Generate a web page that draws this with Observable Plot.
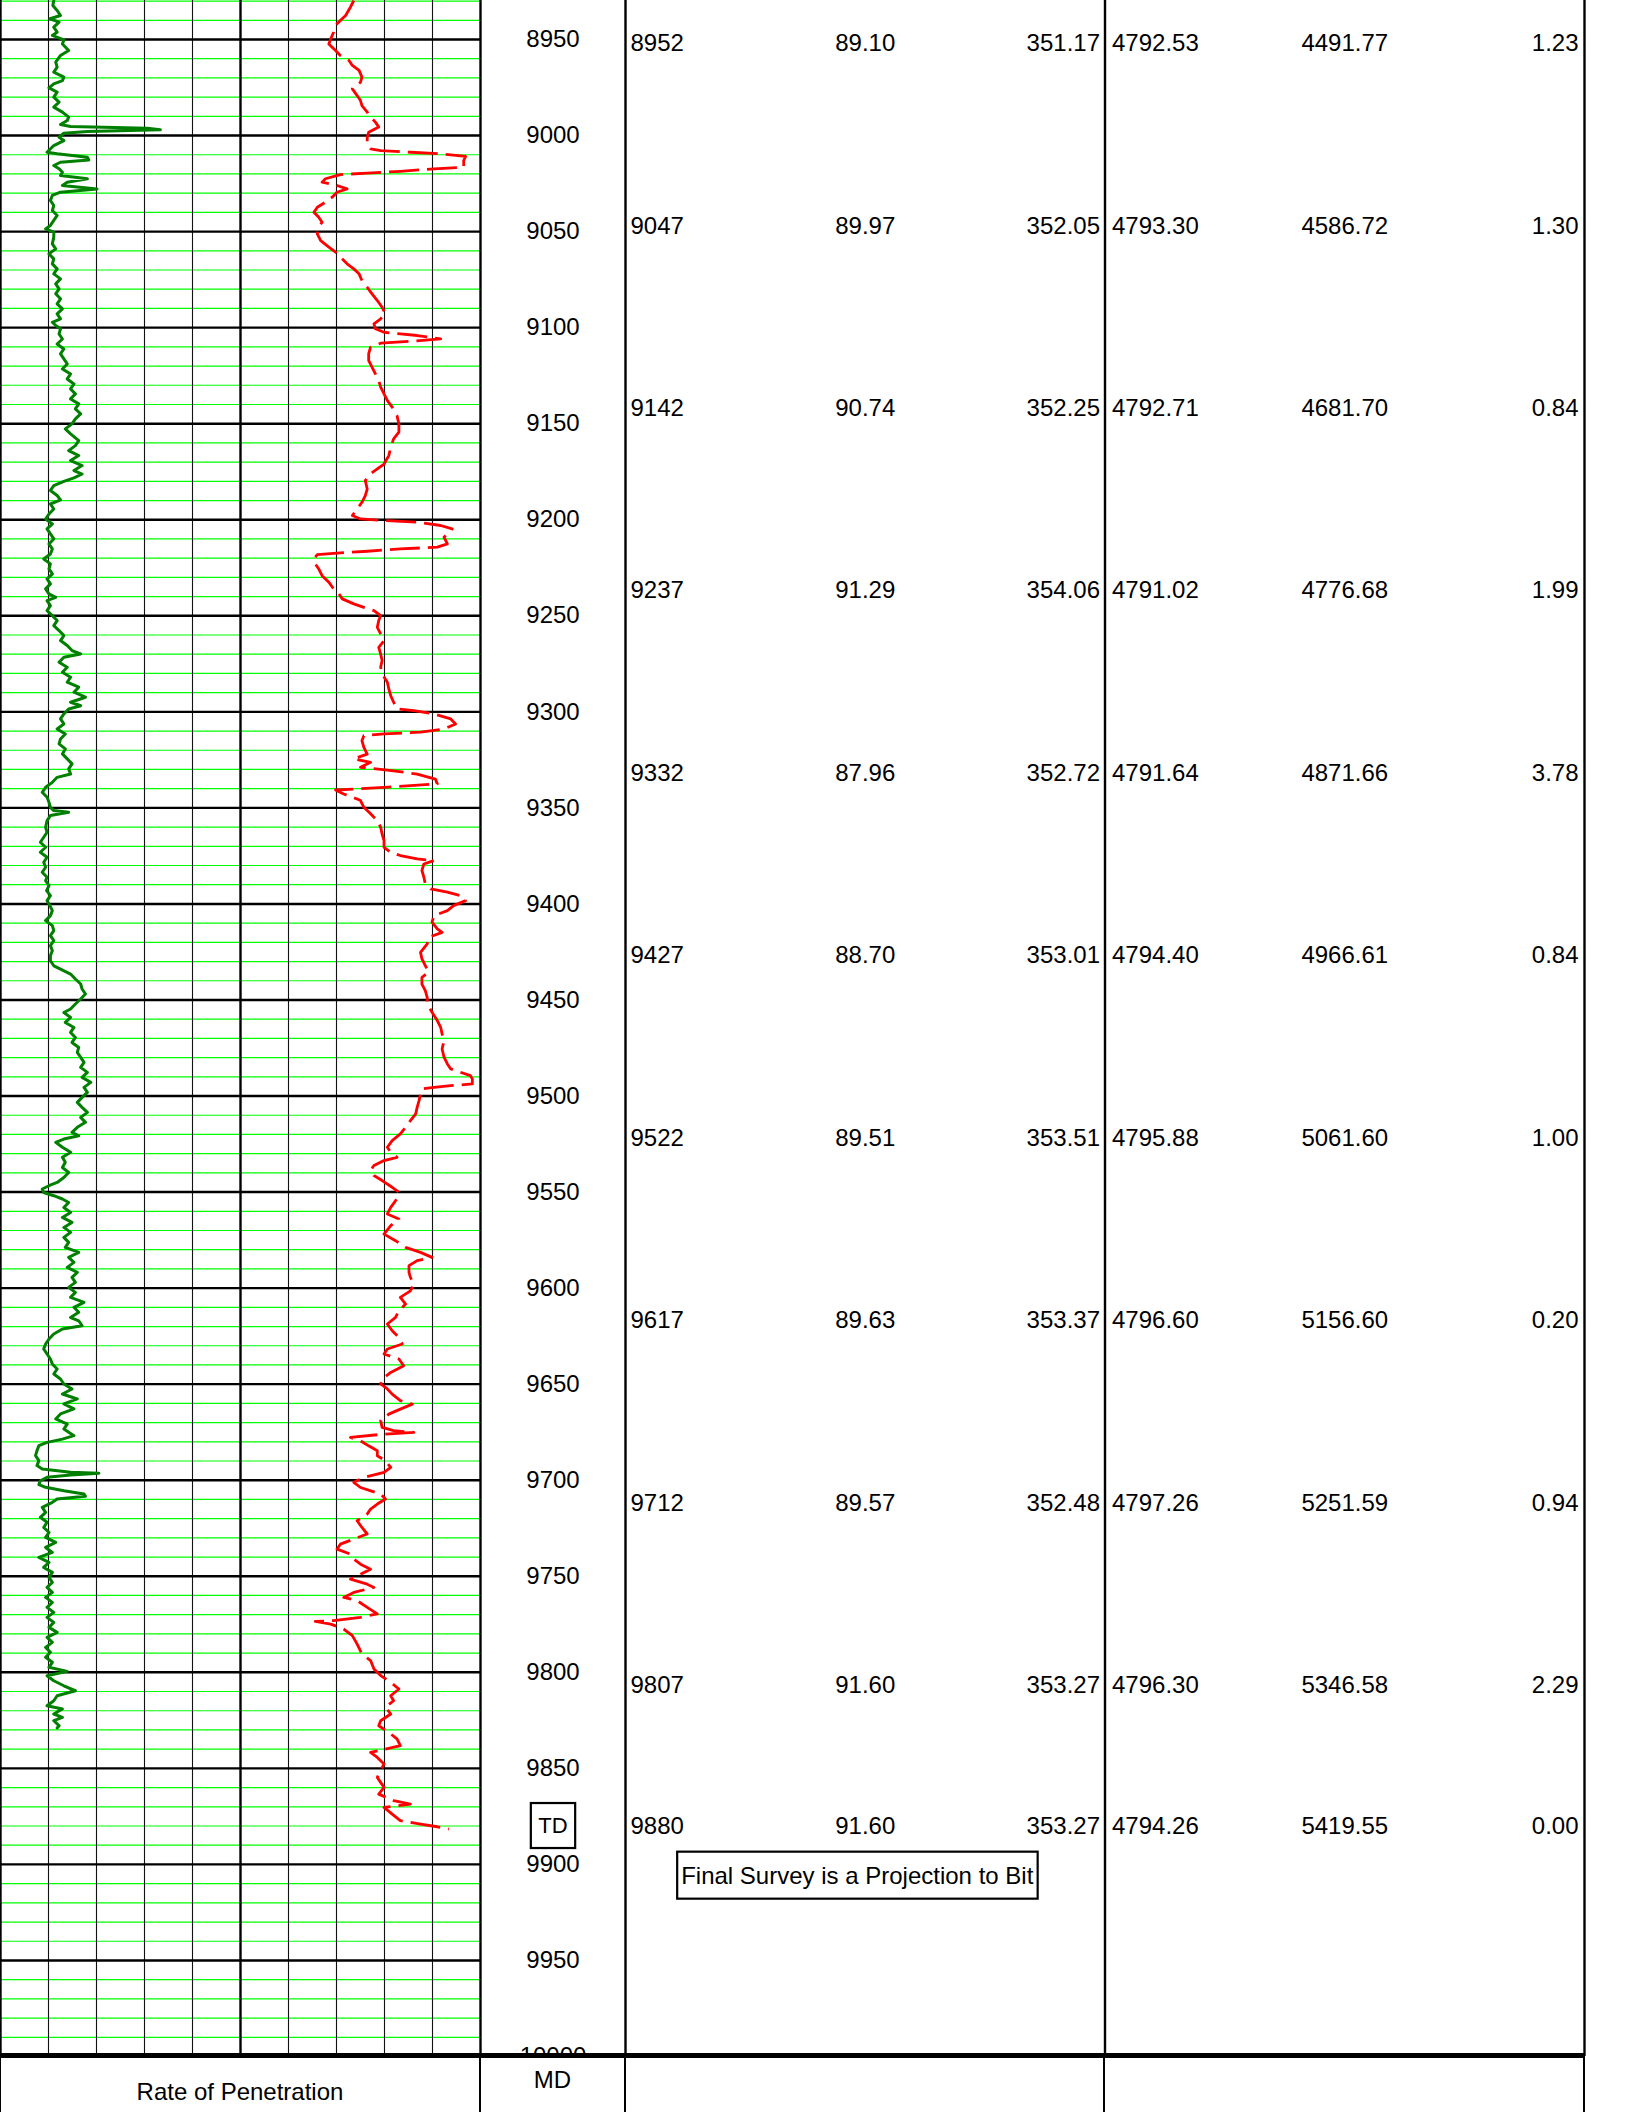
<!DOCTYPE html>
<html>
<head>
<meta charset="utf-8">
<title>Rate of Penetration – MD log with survey table</title>
<script src="https://cdn.jsdelivr.net/npm/d3@7"></script>
<script src="https://cdn.jsdelivr.net/npm/@observablehq/plot@0.6"></script>
<style>
  html, body { margin: 0; padding: 0; background: #fff; }
  #log {
    position: relative; width: 1632px; height: 2112px; overflow: hidden; background: #fff;
    font-family: "Liberation Sans", Arial, Helvetica, sans-serif; color: #000;
  }
  .panel { position: absolute; top: 0; }
  .footer {
    position: absolute; left: 0; top: 2053px; width: 1585px; height: 59px;
    border-top: 5px solid #000; background: #fff; z-index: 2;
  }
  .footer .sep { position: absolute; top: -5px; bottom: 0; width: 2px; background: #000; }
  .footer .label { position: absolute; font-size: 24px; line-height: 24px; text-align: center; white-space: nowrap; }
</style>
</head>
<body>
<div id="log"></div>
<script>
// ---- Depth window (feet, measured depth) ----
const depthTop = 8929.7;
const depthBottom = 10000;
const depthLabels = [8950, 9000, 9050, 9100, 9150, 9200, 9250, 9300, 9350, 9400, 9450,
                     9500, 9550, 9600, 9650, 9700, 9750, 9800, 9850, 9900, 9950, 10000];

// ---- Track 1 curves: [depth ft, track value on a 0–100 scale] ----
const gammaRay = [
  [8929.7,11.1],[8932.3,10.9],[8934.9,11.8],[8937.5,12.5],[8939.2,10.3],[8941.0,12.2],[8943.6,11.1],[8946.2,11.8],
  [8947.9,10.8],[8950.2,13.2],[8952.3,12.9],[8955.7,14.2],[8958.3,12.5],[8961.8,11.5],[8964.4,11.8],[8967.0,11.1],
  [8969.6,13.2],[8971.4,12.9],[8973.1,11.1],[8975.2,10.1],[8977.4,11.8],[8980.0,11.1],[8982.6,12.2],[8985.2,11.1],
  [8987.8,12.9],[8990.4,14.2],[8992.2,13.9],[8994.3,12.5],[8995.3,14.6],[8996.2,30.6],[8997.0,33.3],[8997.9,18.1],
  [8998.8,13.2],[9000.9,12.2],[9002.6,13.2],[9005.2,11.1],[9008.7,9.7],[9009.5,11.8],[9011.3,18.1],[9012.7,18.4],
  [9013.9,12.5],[9015.6,11.1],[9017.3,12.2],[9019.1,12.9],[9020.8,12.5],[9022.5,18.1],[9024.3,13.9],[9026.0,12.9],
  [9027.8,20.1],[9029.5,12.5],[9031.2,10.8],[9033.8,10.4],[9036.4,11.1],[9039.0,10.8],[9041.6,11.8],[9044.2,11.1],
  [9046.8,10.4],[9048.6,9.4],[9050.3,11.1],[9052.9,11.1],[9056.4,10.8],[9059.0,11.5],[9061.6,10.1],[9064.2,11.1],
  [9066.8,10.8],[9069.4,11.8],[9072.0,11.1],[9074.6,12.5],[9077.2,11.5],[9079.8,12.2],[9082.4,11.5],[9085.0,12.5],
  [9087.6,11.8],[9090.2,12.9],[9092.8,11.8],[9095.4,12.5],[9097.2,10.8],[9098.9,11.5],[9100.6,12.5],[9103.3,12.2],
  [9105.9,12.9],[9108.5,11.8],[9111.1,13.2],[9113.7,12.5],[9116.3,13.2],[9118.9,13.9],[9121.5,12.9],[9124.1,14.6],
  [9126.7,13.9],[9129.3,15.3],[9131.9,14.6],[9134.5,15.6],[9137.1,14.6],[9139.7,16.3],[9142.3,15.6],[9144.9,16.7],
  [9147.5,15.6],[9150.1,14.9],[9152.7,13.5],[9155.3,14.6],
  [9158.8,16.3],[9161.4,15.6],[9164.0,14.2],[9166.6,16.3],[9169.2,14.6],[9171.8,17.0],[9174.4,15.3],[9176.2,17.0],
  [9178.2,15.3],[9180.0,13.2],[9182.2,11.1],[9184.8,10.4],[9187.4,11.8],[9189.7,12.5],[9191.8,10.4],[9194.4,11.1],
  [9197.0,10.1],[9199.6,9.4],[9202.2,10.8],[9204.8,9.7],[9207.4,10.4],[9210.0,11.1],[9212.6,10.1],[9215.2,10.8],
  [9217.8,10.4],[9220.4,9.0],[9223.0,10.4],[9225.6,10.1],[9228.2,10.8],[9230.8,9.7],[9233.4,10.4],[9236.0,9.4],
  [9238.6,10.1],[9240.4,11.5],[9242.1,9.7],[9244.7,10.4],[9247.3,9.7],[9249.9,10.8],[9252.5,11.8],[9255.1,11.1],
  [9257.7,12.2],[9260.3,13.2],[9262.9,12.5],[9265.5,13.9],[9268.1,14.9],[9269.9,16.7],[9271.6,13.2],[9274.2,12.2],
  [9276.8,13.9],[9279.4,12.9],[9282.0,14.6],[9284.6,13.9],[9287.2,16.3],[9289.8,15.3],[9292.4,17.7],[9295.0,14.6],
  [9296.8,16.7],[9298.5,14.2],[9301.1,13.2],[9303.7,12.5],[9306.3,13.2],[9308.9,11.8],[9311.5,13.5],[9314.1,12.5],
  [9316.7,12.2],[9319.3,13.5],[9321.9,12.9],[9324.5,13.9],[9327.1,14.9],[9329.7,14.2],[9332.4,14.6],[9334.1,11.8],
  [9336.7,10.8],[9339.3,9.4],[9341.9,8.7],[9344.5,9.7],[9347.1,10.1],[9349.7,10.4],[9351.4,11.1],[9352.3,14.2],
  [9354.0,10.4],[9356.6,9.7],[9360.1,9.4],[9362.7,9.7],[9365.3,9.0],[9367.9,8.3],[9370.5,9.4],[9373.1,8.3],
  [9375.7,9.7],[9378.3,9.0],[9380.9,9.4],[9383.5,8.7],[9386.1,9.7],
  [9387.9,9.4],[9390.5,10.1],[9393.1,9.6],[9395.7,10.4],[9398.3,9.7],[9400.9,10.3],[9403.5,10.8],[9406.1,10.4],
  [9408.7,9.4],[9411.3,10.8],[9413.9,11.1],[9416.5,10.4],[9419.1,11.1],[9421.7,10.4],[9424.3,10.8],[9426.9,10.4],
  [9429.6,10.4],[9432.2,11.1],[9433.9,12.5],[9436.5,14.6],[9439.1,15.6],[9441.7,16.7],[9444.3,17.0],[9446.9,17.7],
  [9449.5,16.7],[9452.1,15.6],[9454.7,14.6],[9456.5,13.2],[9459.1,14.6],[9461.7,13.5],[9464.3,15.3],[9466.9,14.6],
  [9469.5,15.6],[9472.1,14.9],[9474.7,16.3],[9477.3,16.0],[9479.9,16.7],[9482.5,17.4],[9485.1,16.7],[9487.7,18.1],
  [9490.3,17.0],[9492.9,18.8],[9495.5,17.4],[9498.1,18.1],[9500.7,17.0],[9503.3,16.0],[9505.9,17.0],[9508.5,18.1],
  [9511.1,16.7],[9513.7,17.7],[9516.3,16.0],[9518.9,14.9],[9520.7,16.3],[9522.4,13.2],[9524.1,11.5],[9526.7,12.9],
  [9529.3,14.6],[9531.9,12.9],[9534.5,13.5],[9537.2,12.9],[9539.8,14.2],[9542.4,13.2],[9545.0,11.8],[9546.7,10.1],
  [9548.4,8.7],[9550.2,9.0],[9551.9,11.1],[9553.6,12.9],[9555.4,14.2],[9558.0,13.2],[9560.6,14.6],[9563.2,12.9],
  [9565.8,14.9],[9568.4,13.2],[9571.0,14.6],[9573.6,13.2],[9576.2,14.2],[9578.8,13.5],[9581.4,16.3],[9584.0,14.2],
  [9586.6,15.3],[9589.2,13.9],[9591.8,16.0],[9594.4,14.9],[9597.0,15.6],[9599.6,14.2],[9602.2,15.6],[9604.8,14.6],
  [9607.4,17.4],[9610.0,15.3],[9612.6,16.3],[9615.3,14.6],
  [9617.0,16.3],[9619.6,17.0],[9621.3,12.9],[9623.9,11.1],[9626.5,10.1],[9629.1,9.4],[9631.7,9.0],[9634.3,9.7],
  [9636.9,10.4],[9639.5,10.8],[9642.1,11.8],[9644.7,11.1],[9647.3,12.5],[9649.9,13.2],[9652.5,14.9],[9655.1,12.9],
  [9657.7,16.0],[9660.3,13.2],[9662.9,15.3],[9665.5,12.5],[9668.1,11.5],[9670.8,13.9],[9673.4,13.2],[9676.8,15.3],
  [9678.6,12.9],[9680.3,9.7],[9682.0,8.0],[9684.6,7.6],[9687.2,7.3],[9689.8,8.0],[9692.4,7.6],[9694.2,8.7],
  [9695.9,14.6],[9696.4,20.5],[9697.3,14.6],[9698.5,9.7],[9700.3,8.3],[9702.3,8.0],[9703.7,9.4],[9705.5,13.2],
  [9707.2,17.4],[9708.4,17.7],[9709.8,11.8],[9711.5,10.8],[9714.1,8.7],[9716.7,9.4],[9719.3,8.3],[9721.9,9.7],
  [9724.6,9.0],[9727.2,10.1],[9729.8,9.4],[9732.4,11.5],[9735.0,9.4],[9737.6,10.8],[9740.2,8.0],[9742.8,10.1],
  [9745.4,9.0],[9748.0,10.8],[9750.6,10.1],[9753.2,10.8],[9755.8,9.7],[9758.4,10.8],[9761.0,9.4],[9763.6,10.8],
  [9766.2,9.7],[9768.8,11.1],[9771.4,9.7],[9774.0,11.1],[9776.6,10.1],[9779.2,11.8],[9781.8,9.7],[9784.4,10.8],
  [9787.0,9.4],[9789.6,10.4],[9792.2,9.4],[9794.8,10.8],[9797.4,10.1],[9799.5,13.9],[9801.8,9.7],[9804.4,11.1],
  [9807.0,13.2],[9809.6,15.6],[9812.2,11.8],[9814.8,11.1],[9817.4,9.7],[9819.1,12.9],[9821.7,11.1],[9823.5,12.9],
  [9825.2,11.1],[9827.8,12.2],[9829.0,11.8]
];

const rateOfPenetration = [
  [8929.7,73.6],[8933.2,72.9],[8937.5,71.9],[8940.1,70.8],[8942.7,69.8],[8946.2,69.4],[8949.7,68.8],[8952.3,68.4],
  [8955.7,69.8],[8958.3,70.8],[8960.9,72.6],[8963.5,73.3],[8966.1,74.7],[8969.6,75.3],[8972.2,75.0],[8975.7,73.3],
  [8979.2,74.3],[8981.8,75.0],[8984.4,75.3],[8987.8,76.4],[8990.4,77.1],[8993.0,78.1],[8995.6,78.8],[8998.3,76.7],
  [9000.9,76.4],[9004.3,76.4],[9006.9,77.1],[9007.8,79.2],[9008.7,85.4],[9009.5,91.7],[9010.9,96.9],[9013.0,96.5],
  [9016.5,96.5],[9017.3,90.3],[9018.6,83.3],[9019.6,76.4],[9020.3,70.8],[9022.5,67.7],[9024.3,67.0],[9026.0,70.1],
  [9027.8,72.2],[9029.5,70.1],[9032.1,69.1],[9034.7,67.7],[9037.3,66.0],[9039.9,65.3],[9042.5,66.3],[9045.1,67.0],
  [9047.7,66.3],[9051.2,66.0],[9054.7,66.7],[9058.1,68.4],[9060.7,69.8],[9063.3,70.8],[9066.8,72.2],[9069.4,73.6],
  [9072.0,74.7],[9075.5,75.3],[9079.0,76.4],[9082.4,77.4],[9085.9,78.5],[9089.4,79.5],[9092.8,80.2],[9095.4,79.2],
  [9098.0,77.8],[9100.6,78.1],[9102.4,79.9],[9103.3,83.3],[9104.1,86.8],[9105.9,91.7],[9107.1,85.4],[9108.1,79.2],
  [9110.2,77.1],[9113.7,76.7],[9117.1,76.7],[9120.6,77.4],[9124.1,78.1],[9127.5,78.8],[9131.0,79.2],[9134.5,79.9],
  [9138.0,80.6],[9141.4,81.6],[9145.8,82.6],[9150.1,83.0],[9154.4,83.0],[9157.9,81.9],[9162.3,81.3],[9166.6,80.9],
  [9171.0,79.9],[9173.5,78.5],[9176.1,77.1],[9179.6,76.0],[9184.0,76.4],[9187.4,76.0],[9190.9,75.3],[9194.4,74.3],
  [9197.8,73.3],[9199.6,75.0],[9200.4,79.9],[9201.3,86.8],[9203.0,91.7],[9204.8,94.1],[9206.5,93.4],[9209.1,92.4],
  [9212.6,93.1],[9214.3,91.0],[9215.2,83.3],[9216.4,76.4],[9217.5,69.4],[9218.2,66.0],[9220.4,65.3],[9223.0,65.6],
  [9225.6,66.3],[9229.1,67.0],[9232.5,68.4],[9236.0,69.4],[9238.6,70.5],[9241.2,71.2],[9243.8,73.6],[9245.6,75.7],
  [9247.3,77.8],[9249.9,79.2],[9252.5,78.8],[9256.0,78.5],[9259.4,79.2],[9262.9,79.9],[9266.4,78.8],[9269.9,79.2],
  [9273.3,79.5],[9276.8,79.2],[9280.3,79.5],[9284.6,80.6],[9288.1,80.9],[9291.6,81.3],[9295.0,81.9],[9298.5,82.6],
  [9299.4,86.1],[9301.1,90.3],[9303.7,93.8],[9306.3,94.8],[9308.9,92.4],[9310.6,87.5],[9311.5,79.9],[9312.4,75.7],
  [9315.0,75.3],[9318.5,75.7],[9322.0,76.4],[9324.5,73.6],[9326.3,77.1],[9328.9,75.0],[9330.3,80.6],[9332.4,86.8],
  [9335.0,90.6],[9337.5,91.0],[9339.3,79.9],[9340.7,69.8],[9342.8,71.5],[9345.4,74.3],
  [9346.2,75.0],[9349.7,75.7],[9353.1,77.1],[9356.6,78.5],[9360.1,79.2],[9363.6,79.5],[9367.0,79.9],[9370.5,79.9],
  [9373.1,81.3],[9374.8,83.3],[9376.6,86.8],[9377.4,90.3],[9379.2,88.2],[9382.6,87.8],[9386.1,88.2],[9389.6,88.5],
  [9392.2,89.6],[9393.9,93.1],[9395.7,95.8],[9398.3,96.9],[9400.9,94.4],[9403.5,93.1],[9406.1,90.3],[9409.5,89.9],
  [9413.0,91.0],[9414.8,92.0],[9417.4,89.2],[9420.8,88.9],[9425.2,87.5],[9428.6,87.8],[9432.1,88.5],[9435.6,89.2],
  [9438.2,87.8],[9441.7,87.8],[9445.1,88.5],[9448.6,88.9],[9452.1,88.9],[9456.4,89.9],[9460.7,91.0],[9464.2,91.7],
  [9467.7,92.0],[9471.2,92.4],[9475.5,92.0],[9479.8,92.4],[9483.3,93.1],[9485.9,93.8],[9487.6,95.8],[9489.4,97.9],
  [9491.1,98.3],[9493.7,98.3],[9494.6,93.8],[9495.5,90.3],[9496.3,87.8],[9498.9,87.5],[9502.4,87.2],[9505.9,86.8],
  [9509.3,86.5],[9512.8,85.4],[9516.3,84.4],[9519.7,83.3],[9523.2,81.6],[9526.7,80.6],[9529.3,81.3],[9531.9,82.6],
  [9533.6,79.9],[9536.2,77.8],[9538.8,77.1],[9541.4,77.8],[9544.0,79.5],[9547.5,81.6],[9550.1,83.0],[9553.6,82.6],
  [9554.5,82.3],[9558.0,81.3],[9561.4,80.6],[9564.0,83.0],[9567.5,81.3],[9571.9,79.9],[9575.3,82.3],[9578.8,84.4],
  [9581.4,87.5],[9584.0,89.9],[9585.7,86.8],[9588.3,85.1],[9591.8,85.1],[9594.4,85.4],[9597.9,86.1],[9601.4,85.4],
  [9604.8,83.3],[9608.3,84.4],[9611.8,83.0],[9615.2,82.3],[9618.7,80.6],[9622.2,81.6],[9625.7,83.0],[9629.1,83.7],
  [9631.7,80.6],[9634.3,79.9],[9636.9,83.0],[9640.4,84.0],[9643.9,81.3],[9647.3,79.5],[9649.9,79.2],[9652.5,80.6],
  [9655.2,81.6],[9658.6,83.3],[9660.4,85.8],[9663.0,83.3],[9665.6,80.9],[9669.0,79.2],[9672.5,79.5],[9674.2,81.9],
  [9675.1,86.1],[9676.0,79.9],[9677.7,72.9],[9679.5,75.0],[9682.1,76.7],[9684.7,78.5],[9687.3,78.5],[9689.9,80.2],
  [9693.3,81.3],[9695.9,79.9],[9698.5,75.7],[9701.1,73.6],[9703.8,75.0],[9707.2,79.2],[9709.8,80.2],[9712.4,78.5],
  [9715.0,77.1],[9717.6,76.4],[9721.1,74.3],[9724.6,75.3],[9728.0,76.4],[9730.6,73.6],[9733.3,70.8],[9735.9,70.1],
  [9738.5,72.9],[9741.1,73.6],[9743.7,75.0],[9746.3,77.1],[9748.9,75.0],[9751.5,72.9],[9754.1,76.4],[9755.8,77.8],
  [9758.4,73.6],[9761.0,71.5],
  [9762.7,74.3],[9766.2,76.4],[9769.6,78.5],[9771.4,75.0],[9773.1,69.4],[9773.5,65.6],[9774.9,68.8],[9777.5,71.5],
  [9780.9,73.3],[9785.3,74.3],[9790.5,75.3],[9793.9,77.1],[9798.3,77.8],[9801.7,79.2],[9805.2,81.3],[9808.7,83.0],
  [9812.2,81.3],[9814.8,81.9],[9818.2,80.2],[9821.7,81.3],[9825.2,79.2],[9827.8,78.8],[9831.3,80.9],[9834.7,82.6],
  [9838.2,83.3],[9841.7,77.1],[9844.3,78.5],[9847.7,79.9],[9851.2,79.2],[9854.7,78.5],[9859.9,79.9],[9863.4,78.8],
  [9866.8,81.9],[9868.6,85.4],[9870.3,79.9],[9873.8,81.6],[9877.2,83.3],[9879.0,87.5],[9880.4,91.0],[9881.6,93.4]
];

// ---- Directional survey stations ----
const surveyMD   = [8952, 9047, 9142, 9237, 9332, 9427, 9522, 9617, 9712, 9807, 9880];
const surveyInc  = [89.10, 89.97, 90.74, 91.29, 87.96, 88.70, 89.51, 89.63, 89.57, 91.60, 91.60];
const surveyAzi  = [351.17, 352.05, 352.25, 354.06, 352.72, 353.01, 353.51, 353.37, 352.48, 353.27, 353.27];
const surveyTVD  = [4792.53, 4793.30, 4792.71, 4791.02, 4791.64, 4794.40, 4795.88, 4796.60, 4797.26, 4796.30, 4794.26];
const surveyVS   = [4491.77, 4586.72, 4681.70, 4776.68, 4871.66, 4966.61, 5061.60, 5156.60, 5251.59, 5346.58, 5419.55];
const surveyDLS  = [1.23, 1.30, 0.84, 1.99, 3.78, 0.84, 1.00, 0.20, 0.94, 2.29, 0.00];
const tdLabel = "TD";
const finalNote = "Final Survey is a Projection to Bit";
const trackTitle = "Rate of Penetration";
const depthTitle = "MD";

// ---- Shared layout ----
const FONT = '"Liberation Sans", Arial, Helvetica, sans-serif';
const PLOT_H = 2056;
const yDepth = {domain: [depthTop, depthBottom], range: [0, PLOT_H], axis: null};
const baseStyle = {background: "transparent", overflow: "visible", fontFamily: FONT, fontSize: "24px"};

const gammaRows = gammaRay.map(([depth, value]) => ({depth, value}));
const ropRows = rateOfPenetration.map(([depth, value]) => ({depth, value}));
const surveyRows = surveyMD.map((md, i) => ({
  md, inc: surveyInc[i], azi: surveyAzi[i], tvd: surveyTVD[i], vs: surveyVS[i], dls: surveyDLS[i]
}));
const f2 = d3.format(".2f");

// Grid: 10 ft minor lines, 50 ft major lines, ten horizontal divisions
const minorDepths = d3.range(8930, depthBottom, 10).filter(d => d % 50 !== 0);
const majorDepths = depthLabels.filter(d => d < depthBottom);
const thinDivisions = [10, 20, 30, 40, 60, 70, 80, 90];
const heavyDivisions = [0, 50, 100];

const root = document.getElementById("log");
function place(node, left, width) {
  const div = document.createElement("div");
  div.className = "panel";
  div.style.left = left + "px";
  div.style.width = width + "px";
  div.appendChild(node);
  root.appendChild(div);
  return node;
}

// ---- Track 1: curves over the grid ----
const track = Plot.plot({
  width: 482, height: PLOT_H,
  marginTop: 0, marginBottom: 0, marginLeft: 0, marginRight: 2,
  x: {domain: [0, 100], axis: null},
  y: yDepth,
  style: baseStyle,
  marks: [
    Plot.ruleY(minorDepths, {stroke: "#00ff00", strokeWidth: 1.2}),
    Plot.ruleX(thinDivisions, {stroke: "#111", strokeWidth: 1.1}),
    Plot.ruleY(majorDepths, {stroke: "#000", strokeWidth: 2.4}),
    Plot.ruleX(heavyDivisions, {stroke: "#000", strokeWidth: 2.4}),
    Plot.line(gammaRows, {x: "value", y: "depth", stroke: "#007f00", strokeWidth: 3}),
    Plot.line(ropRows, {x: "value", y: "depth", stroke: "#ff0000", strokeWidth: 2.8,
                        strokeDasharray: "30,8", strokeLinecap: "butt"})
  ]
});
place(track, 0, 482);

// ---- Depth track: MD labels and TD marker ----
const depthTrack = Plot.plot({
  width: 143, height: PLOT_H,
  marginTop: 0, marginBottom: 0, marginLeft: 0, marginRight: 0,
  y: yDepth,
  style: baseStyle,
  marks: [
    Plot.text(depthLabels, {y: d => d, text: d => String(d), fontSize: 24}),
    Plot.text([surveyMD[surveyMD.length - 1]], {y: d => d, text: () => tdLabel, fontSize: 22})
  ]
});
place(depthTrack, 481, 143);

// ---- Survey table ----
const table = Plot.plot({
  width: 963, height: PLOT_H,
  marginTop: 0, marginBottom: 0, marginLeft: 2, marginRight: 2,
  x: {domain: [0, 2], axis: null},
  y: yDepth,
  style: baseStyle,
  marks: [
    Plot.ruleX([0, 1, 2], {stroke: "#000", strokeWidth: 2.4}),
    Plot.text(surveyRows, {x: 0, dx: 5, y: "md", text: d => String(d.md), textAnchor: "start", fontSize: 24}),
    Plot.text(surveyRows, {x: 0.5, y: "md", text: d => f2(d.inc), textAnchor: "middle", fontSize: 24}),
    Plot.text(surveyRows, {x: 1, dx: -5, y: "md", text: d => f2(d.azi), textAnchor: "end", fontSize: 24}),
    Plot.text(surveyRows, {x: 1, dx: 7, y: "md", text: d => f2(d.tvd), textAnchor: "start", fontSize: 24}),
    Plot.text(surveyRows, {x: 1.5, y: "md", text: d => f2(d.vs), textAnchor: "middle", fontSize: 24}),
    Plot.text(surveyRows, {x: 2, dx: -6, y: "md", text: d => f2(d.dls), textAnchor: "end", fontSize: 24}),
    Plot.text([surveyRows[surveyRows.length - 1]], {x: 0.5, dx: -8, dy: 50, y: "md",
      text: () => finalNote, textAnchor: "middle", fontSize: 24})
  ]
});
place(table, 623, 963);

// Frame the boxed annotations around their rendered text
function frameText(svg, content, padX, padY) {
  for (const t of svg.querySelectorAll("text")) {
    if (t.textContent !== content) continue;
    const b = t.getBBox();
    const r = document.createElementNS("http://www.w3.org/2000/svg", "rect");
    r.setAttribute("x", b.x - padX);
    r.setAttribute("y", b.y - padY);
    r.setAttribute("width", b.width + 2 * padX);
    r.setAttribute("height", b.height + 2 * padY);
    r.setAttribute("fill", "none");
    r.setAttribute("stroke", "#000");
    r.setAttribute("stroke-width", 2.2);
    r.setAttribute("transform", t.getAttribute("transform") || "");
    t.parentNode.insertBefore(r, t);
  }
}
frameText(depthTrack, tdLabel, 7.5, 10);
frameText(table, finalNote, 4, 10);

// ---- Footer with track titles ----
const footer = document.createElement("div");
footer.className = "footer";
for (const x of [0, 480, 625, 1104, 1584]) {
  const s = document.createElement("div");
  s.className = "sep";
  s.style.left = (x - 1) + "px";
  footer.appendChild(s);
}
function footLabel(text, left, width, top) {
  const s = document.createElement("div");
  s.className = "label";
  s.style.left = left + "px";
  s.style.width = width + "px";
  s.style.top = top + "px";
  s.textContent = text;
  footer.appendChild(s);
}
footLabel(trackTitle, 0, 480, 22);
footLabel(depthTitle, 480, 145, 10);
root.appendChild(footer);
</script>
</body>
</html>
